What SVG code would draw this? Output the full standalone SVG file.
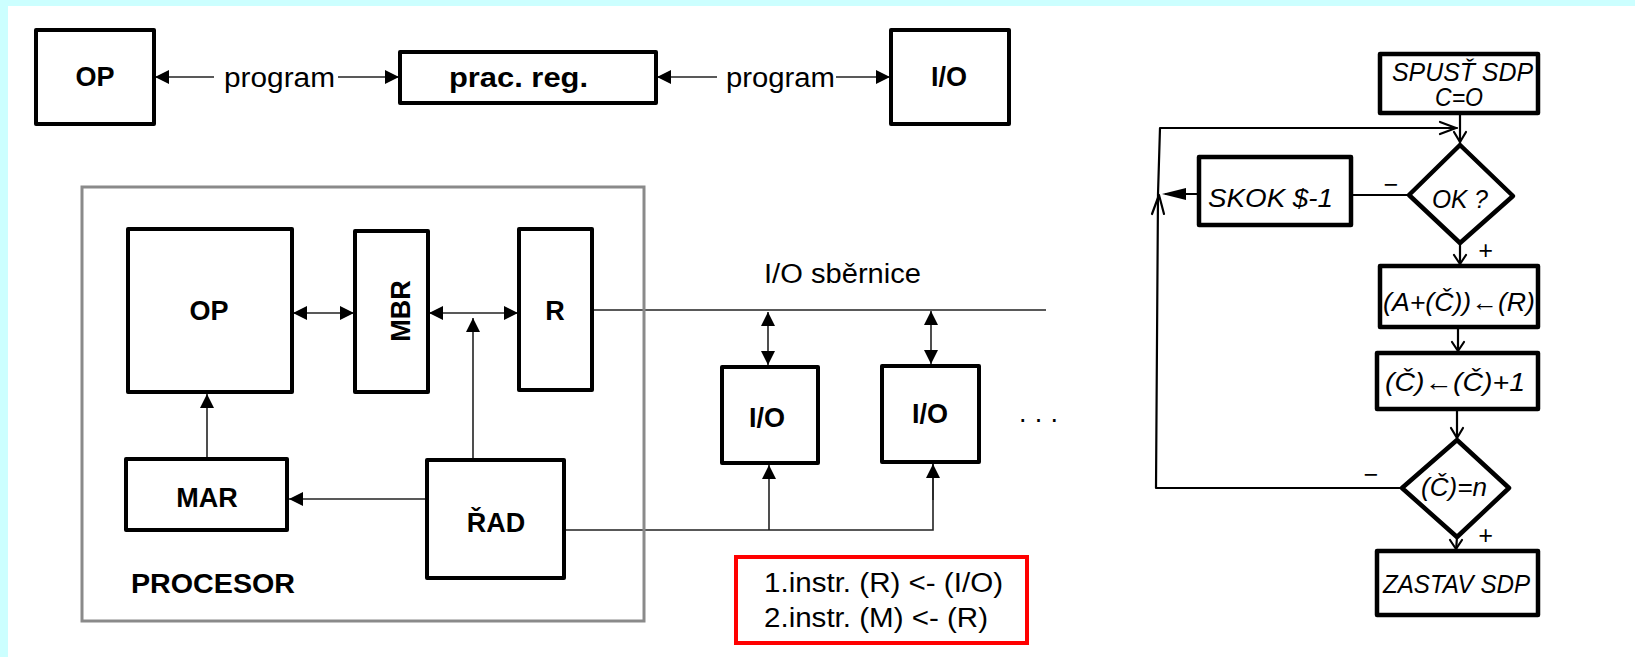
<svg xmlns="http://www.w3.org/2000/svg" width="1635" height="657" viewBox="0 0 1635 657">
<style>
.bx{fill:#fff;stroke:#000;stroke-width:4;stroke-linejoin:round}
.gb{fill:none;stroke:#8a8a8a;stroke-width:3}
.ln{fill:none;stroke:#222;stroke-width:1.6}
.fl{fill:none;stroke:#000;stroke-width:2.2;stroke-linecap:round;stroke-linejoin:round}
.fb{fill:#fff;stroke:#000;stroke-width:4.5;stroke-linejoin:round}
.b{font-family:"Liberation Sans",Arial,sans-serif;font-weight:bold;font-size:27px;fill:#000}
.r{font-family:"Liberation Sans",Arial,sans-serif;font-size:27px;fill:#000}
.h{font-family:"Liberation Sans",Arial,sans-serif;font-style:italic;font-size:25px;fill:#000}
</style>
<defs>
<marker id="ah" markerUnits="userSpaceOnUse" markerWidth="14" markerHeight="14" viewBox="0 0 14 14" refX="14" refY="7" orient="auto-start-reverse">
<path d="M0,0 L14,7 L0,14 z" fill="#000"/>
</marker>
</defs>
<rect x="0" y="0" width="1635" height="657" fill="#fff"/>
<rect x="0" y="0" width="1635" height="6" fill="#ccffff"/>
<rect x="0" y="0" width="8" height="657" fill="#ccffff"/>

<g id="connectors">
<line class="ln" x1="155" y1="77" x2="214" y2="77" marker-start="url(#ah)"/>
<line class="ln" x1="338" y1="77" x2="399" y2="77" marker-end="url(#ah)"/>
<line class="ln" x1="657" y1="77" x2="717" y2="77" marker-start="url(#ah)"/>
<line class="ln" x1="836" y1="77" x2="890" y2="77" marker-end="url(#ah)"/>
<line class="ln" x1="293" y1="313" x2="354" y2="313" marker-start="url(#ah)" marker-end="url(#ah)"/>
<line class="ln" x1="429" y1="313" x2="518" y2="313" marker-start="url(#ah)" marker-end="url(#ah)"/>
<line class="ln" x1="473" y1="458" x2="473" y2="318" marker-end="url(#ah)"/>
<line class="ln" x1="207" y1="458" x2="207" y2="394" marker-end="url(#ah)"/>
<line class="ln" x1="426" y1="499" x2="289" y2="499" marker-end="url(#ah)"/>
<polyline class="ln" points="565,530 933,530 933,464"/>
<line class="ln" x1="769" y1="530" x2="769" y2="465" marker-end="url(#ah)"/>
<line class="ln" x1="933" y1="500" x2="933" y2="464" marker-end="url(#ah)"/>
<line class="ln" x1="593" y1="310" x2="1046" y2="310"/>
<line class="ln" x1="768" y1="312" x2="768" y2="365" marker-start="url(#ah)" marker-end="url(#ah)"/>
<line class="ln" x1="931" y1="311" x2="931" y2="364" marker-start="url(#ah)" marker-end="url(#ah)"/>
<!-- flowchart -->
<line class="fl" x1="1460" y1="113" x2="1460" y2="145"/>
<polyline class="fl" points="1454,132 1460,142 1466,132"/>
<polyline class="fl" points="1158,194 1160,128 1457,128"/>
<polyline class="fl" points="1440,122 1456,128 1440,134"/>
<line class="fl" x1="1409" y1="195" x2="1351" y2="195"/>
<line class="fl" x1="1199" y1="194" x2="1166" y2="194"/>
<path d="M1162,194 L1186,188 L1186,200 z" fill="#000"/>
<polyline class="fl" points="1152,214 1159,195 1164,214"/>
<polyline class="fl" points="1158,194 1156,488 1402,488"/>
<line class="fl" x1="1460" y1="243" x2="1460" y2="266"/>
<polyline class="fl" points="1454,255 1460,264 1466,255"/>
<line class="fl" x1="1458" y1="327" x2="1458" y2="353"/>
<polyline class="fl" points="1452,342 1458,351 1464,342"/>
<line class="fl" x1="1457" y1="409" x2="1457" y2="440"/>
<polyline class="fl" points="1451,428 1457,438 1463,428"/>
<line class="fl" x1="1457" y1="537" x2="1456" y2="551"/>
<polyline class="fl" points="1450,540 1456,549 1462,540"/>
</g>

<g id="top-op"><rect class="bx" x="36" y="30" width="118" height="94"/><text class="b" x="95" y="86" text-anchor="middle">OP</text></g>
<text class="r" x="224" y="87" textLength="111" lengthAdjust="spacingAndGlyphs">program</text>
<g id="top-pracreg"><rect class="bx" x="400" y="52" width="256" height="51"/><text class="b" x="449" y="87" textLength="139" lengthAdjust="spacingAndGlyphs">prac. reg.</text></g>
<text class="r" x="726" y="87" textLength="109" lengthAdjust="spacingAndGlyphs">program</text>
<g id="top-io"><rect class="bx" x="891" y="30" width="118" height="94"/><text class="b" x="949" y="86" text-anchor="middle">I/O</text></g>

<g id="procesor"><rect class="gb" x="82" y="187" width="562" height="434"/><text class="b" x="131" y="593" textLength="164" lengthAdjust="spacingAndGlyphs">PROCESOR</text></g>
<g id="op"><rect class="bx" x="128" y="229" width="164" height="163"/><text class="b" x="209" y="320" text-anchor="middle">OP</text></g>
<g id="mbr"><rect class="bx" x="355" y="231" width="73" height="161"/><text class="b" transform="translate(410,311) rotate(-90)" x="0" y="0" text-anchor="middle" font-size="28">MBR</text></g>
<g id="r"><rect class="bx" x="519" y="229" width="73" height="161"/><text class="b" x="555" y="320" text-anchor="middle">R</text></g>
<g id="mar"><rect class="bx" x="126" y="459" width="161" height="71"/><text class="b" x="207" y="507" text-anchor="middle">MAR</text></g>
<g id="rad"><rect class="bx" x="427" y="460" width="137" height="118"/><text class="b" x="496" y="532" text-anchor="middle">ŘAD</text></g>
<text class="r" x="764" y="283" textLength="157" lengthAdjust="spacingAndGlyphs">I/O sběrnice</text>
<g id="io1"><rect class="bx" x="722" y="367" width="96" height="96"/><text class="b" x="767" y="427" text-anchor="middle">I/O</text></g>
<g id="io2"><rect class="bx" x="882" y="366" width="97" height="96"/><text class="b" x="930" y="423" text-anchor="middle">I/O</text></g>
<text class="r" x="1019" y="422" textLength="39" lengthAdjust="spacing">. . .</text>
<g id="note"><rect x="736" y="557" width="291" height="86" fill="#fff" stroke="#ff0000" stroke-width="4"/>
<text class="r" x="764" y="592" textLength="239" lengthAdjust="spacingAndGlyphs">1.instr. (R) &lt;- (I/O)</text>
<text class="r" x="764" y="627" textLength="224" lengthAdjust="spacingAndGlyphs">2.instr. (M) &lt;- (R)</text></g>

<g id="f-start"><rect class="fb" x="1380" y="54" width="158" height="59"/>
<text class="h" x="1392" y="81" font-size="21" textLength="141" lengthAdjust="spacingAndGlyphs">SPUSŤ SDP</text>
<text class="h" x="1435" y="106" font-size="21" textLength="48" lengthAdjust="spacingAndGlyphs">C=O</text></g>
<g id="f-ok"><polygon class="fb" points="1460,145 1513,196 1460,243 1409,195"/><text class="h" x="1432" y="208" textLength="56" lengthAdjust="spacingAndGlyphs">OK ?</text></g>
<g id="f-skok"><rect class="fb" x="1199" y="157" width="152" height="68"/><text class="h" x="1208" y="207" font-size="27" textLength="125" lengthAdjust="spacingAndGlyphs">SKOK $-1</text></g>
<text class="h" x="1383" y="193" font-size="26">−</text>
<text class="h" x="1478" y="259" font-size="24">+</text>
<g id="f-store"><rect class="fb" x="1380" y="266" width="158" height="61"/><text class="h" x="1383" y="311" font-size="28" textLength="152" lengthAdjust="spacingAndGlyphs">(A+(Č))←(R)</text></g>
<g id="f-inc"><rect class="fb" x="1377" y="353" width="161" height="56"/><text class="h" x="1385" y="391" font-size="28" textLength="140" lengthAdjust="spacingAndGlyphs">(Č)←(Č)+1</text></g>
<g id="f-test"><polygon class="fb" points="1457,440 1509,488 1457,537 1402,488"/><text class="h" x="1421" y="496" font-size="24" textLength="66" lengthAdjust="spacingAndGlyphs">(Č)=n</text></g>
<text class="h" x="1363" y="483" font-size="26">−</text>
<text class="h" x="1478" y="544" font-size="24">+</text>
<g id="f-stop"><rect class="fb" x="1377" y="551" width="161" height="64"/><text class="h" x="1383" y="593" textLength="147" lengthAdjust="spacingAndGlyphs">ZASTAV SDP</text></g>
</svg>
